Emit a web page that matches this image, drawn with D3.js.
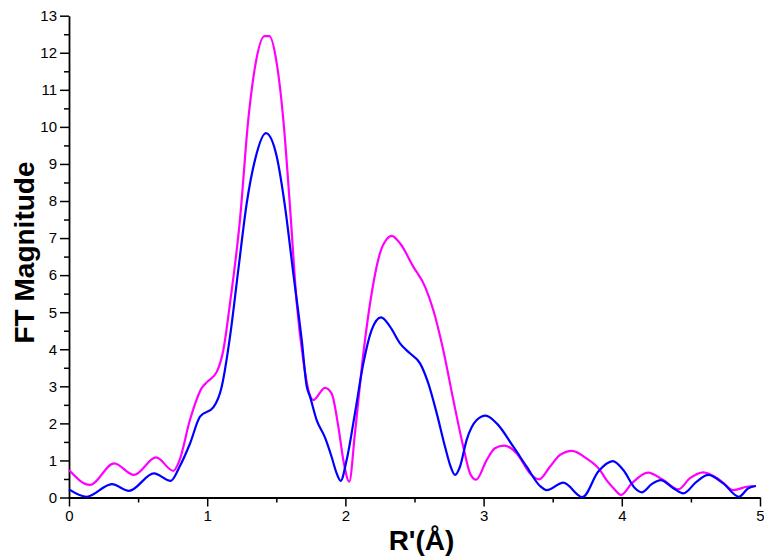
<!DOCTYPE html>
<html>
<head>
<meta charset="utf-8">
<script src="https://cdn.jsdelivr.net/npm/d3@7"></script>
<style>
  body { margin: 0; background: #fff; }
  svg { display: block; font-family: "Liberation Sans", Arial, sans-serif; }
</style>
</head>
<body>
<script>
// R'(Å) positions and FT magnitudes
var rBlue = [0, 0.128, 0.31, 0.434, 0.615, 0.736, 0.80, 0.875, 0.948, 1.044, 1.105, 1.165, 1.225, 1.286,
  1.346, 1.425, 1.503, 1.563, 1.623, 1.684, 1.72, 1.744, 1.792, 1.852, 1.90, 1.937, 1.966, 2.009, 2.069,
  2.13, 2.19, 2.258, 2.323, 2.395, 2.467, 2.54, 2.60, 2.661, 2.721, 2.762, 2.793, 2.829, 2.877, 2.95,
  3.015, 3.095, 3.215, 3.312, 3.408, 3.457, 3.577, 3.715, 3.83, 3.935, 4.011, 4.096, 4.144, 4.216, 4.281,
  4.373, 4.445, 4.542, 4.626, 4.734, 4.848, 4.915, 4.97];
var blueVals = [0.22, 0.02, 0.36, 0.18, 0.65, 0.45, 0.83, 1.45, 2.18, 2.43, 2.99, 4.34, 6.14, 7.94,
  9.11, 9.83, 9.2, 7.85, 6.05, 4.25, 3.0, 2.72, 2.09, 1.62, 1.10, 0.65, 0.45, 1.01, 2.27,
  3.62, 4.52, 4.86, 4.61, 4.16, 3.89, 3.62, 3.08, 2.27, 1.37, 0.83, 0.61, 0.83, 1.55, 2.09,
  2.21, 2.0, 1.37, 0.83, 0.31, 0.2, 0.4, 0.01, 0.7, 0.98, 0.74, 0.25, 0.14, 0.36, 0.47,
  0.25, 0.11, 0.43, 0.61, 0.38, 0.02, 0.25, 0.31];

var rMagenta = [0, 0.152, 0.326, 0.47, 0.63, 0.755, 0.80, 0.875, 0.96, 1.0, 1.069, 1.117, 1.165, 1.237,
  1.297, 1.346, 1.415, 1.45, 1.503, 1.551, 1.599, 1.648, 1.695, 1.732, 1.768, 1.852, 1.90, 1.949, 1.985,
  2.028, 2.069, 2.13, 2.19, 2.25, 2.299, 2.335, 2.395, 2.491, 2.576, 2.636, 2.708, 2.781, 2.853, 2.902,
  2.946, 3.022, 3.082, 3.148, 3.24, 3.336, 3.401, 3.48, 3.553, 3.64, 3.746, 3.842, 3.891, 3.94, 3.994,
  4.072, 4.19, 4.30, 4.409, 4.493, 4.59, 4.71, 4.807, 4.904, 4.97];
var magentaVals = [0.74, 0.34, 0.92, 0.61, 1.08, 0.72, 1.01, 2.09, 2.95, 3.12, 3.39, 3.98, 5.24, 7.49,
  10.19, 11.62, 12.45, 12.45, 11.72, 10.19, 7.85, 5.24, 3.71, 2.9, 2.63, 2.96, 2.81, 1.91, 1.01,
  0.43, 1.73, 3.89, 5.51, 6.59, 6.97, 7.06, 6.86, 6.23, 5.69, 5.06, 3.98, 2.63, 1.37, 0.65,
  0.48, 1.01, 1.33, 1.40, 1.19, 0.65, 0.49, 0.83, 1.15, 1.26, 1.05, 0.74, 0.46, 0.25, 0.07,
  0.38, 0.67, 0.47, 0.22, 0.52, 0.68, 0.47, 0.2, 0.29, 0.31];

var xTicks = [0, 1, 2, 3, 4, 5];
var yTicks = d3.range(0, 14);

var width = 764, height = 559;
var margin = {left: 69, top: 15.7, right: 4, bottom: 61.5};

var svg = d3.select('body').append('svg').attr('width', width).attr('height', height);

var x = d3.scaleLinear().domain([0, 5]).range([margin.left, width - margin.right]);
var y = d3.scaleLinear().domain([0, 13]).range([height - margin.bottom, margin.top]);

// minor ticks first, then the major axes on top
svg.append('g')
   .attr('transform', 'translate(0,' + y(0) + ')')
   .call(d3.axisBottom(x).tickValues([0.5, 1.5, 2.5, 3.5, 4.5]).tickSize(5).tickFormat(''))
   .call(function (g) { g.select('.domain').remove(); });
svg.append('g')
   .attr('transform', 'translate(' + x(0) + ',0)')
   .call(d3.axisLeft(y).tickValues(d3.range(0.5, 13, 1)).tickSize(5).tickFormat(''))
   .call(function (g) { g.select('.domain').remove(); });

var xAxis = svg.append('g')
   .attr('transform', 'translate(0,' + y(0) + ')')
   .call(d3.axisBottom(x).tickValues(xTicks).tickFormat(d3.format('d'))
     .tickSize(9).tickSizeOuter(0).tickPadding(4));
var yAxis = svg.append('g')
   .attr('transform', 'translate(' + x(0) + ',0)')
   .call(d3.axisLeft(y).tickValues(yTicks).tickFormat(d3.format('d'))
     .tickSize(9).tickSizeOuter(0).tickPadding(3));

svg.selectAll('.tick line').attr('stroke', '#000').attr('stroke-width', 1.5);
svg.selectAll('.domain').attr('stroke', '#000').attr('stroke-width', 1.8);
svg.selectAll('.tick text').attr('font-size', 15).attr('fill', '#000')
   .attr('font-family', '"Liberation Sans", Arial, sans-serif');

// the last x label sits on the window edge; nudge it inside
xAxis.selectAll('.tick text').filter(function (d) { return d === 5; }).attr('dx', -1).attr('text-anchor', 'end').attr('dx', 4);

function drawLine(rs, vals, color) {
  var pts = rs.map(function (r, i) { return [r, vals[i]]; });
  var line = d3.line()
    .x(function (d) { return x(d[0]); })
    .y(function (d) { return y(d[1]); })
    .curve(d3.curveMonotoneX);
  svg.append('path')
     .datum(pts)
     .attr('d', line)
     .attr('fill', 'none')
     .attr('stroke', color)
     .attr('stroke-width', 2.2)
     .attr('stroke-linejoin', 'round');
}

drawLine(rMagenta, magentaVals, '#ff00ff');
drawLine(rBlue, blueVals, '#0000ff');

svg.append('text')
   .attr('x', 421.5).attr('y', 550)
   .attr('text-anchor', 'middle')
   .attr('font-size', 28).attr('font-weight', 'bold')
   .text("R'(Å)");

svg.append('text')
   .attr('transform', 'translate(34,252.5) rotate(-90)')
   .attr('text-anchor', 'middle')
   .attr('font-size', 28).attr('font-weight', 'bold')
   .text('FT Magnitude');
</script>
</body>
</html>
